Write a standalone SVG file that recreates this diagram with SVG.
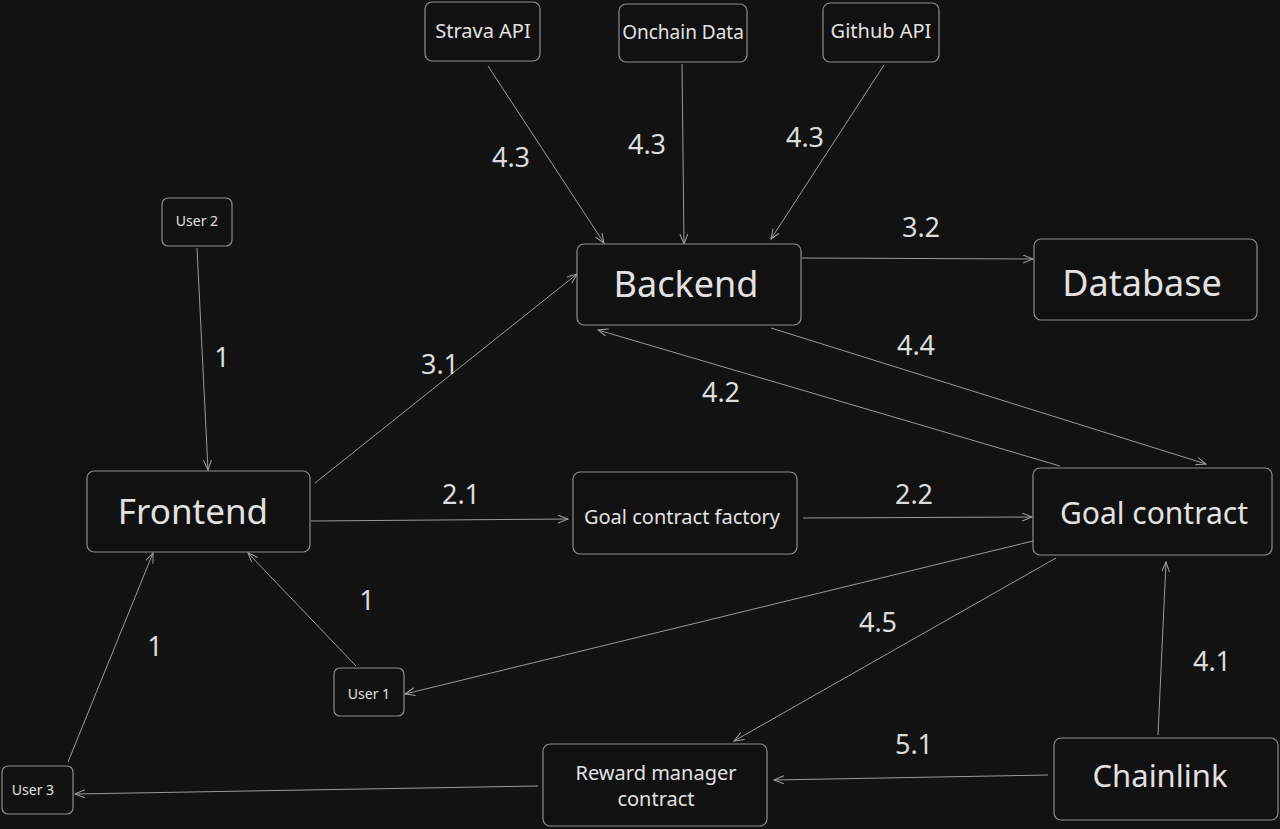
<svg xmlns="http://www.w3.org/2000/svg" width="1280" height="829" viewBox="0 0 1280 829">
<style>
.n{fill:#111111;stroke:#8e8e8e;stroke-width:1.2}
.t{font-family:"Noto Sans",Lato,sans-serif;fill:#e2e2e2;text-anchor:middle;dominant-baseline:central}
.c{stroke:#9a9a9a;stroke-width:1;fill:none;marker-end:url(#a)}
.l{font-family:"Noto Sans",Lato,sans-serif;fill:#dcdcdc;font-size:27px;text-anchor:middle;dominant-baseline:central}
</style>
<defs>
<marker id="a" markerUnits="userSpaceOnUse" markerWidth="12" markerHeight="10" refX="10" refY="4" orient="auto">
<path d="M0,0 L10,4 L0,8" fill="none" stroke="#a0a0a0" stroke-width="1"/>
</marker>
</defs>
<rect width="1280" height="829" fill="#121212"/>
<g id="connectors">
<line class="c" x1="488" y1="66" x2="604" y2="243"/>
<line class="c" x1="682" y1="64" x2="684" y2="244"/>
<line class="c" x1="884" y1="65" x2="771" y2="239"/>
<line class="c" x1="802" y1="258" x2="1033" y2="259"/>
<line class="c" x1="197" y1="248" x2="208" y2="470"/>
<line class="c" x1="315" y1="483" x2="577" y2="274"/>
<line class="c" x1="1060" y1="466" x2="598" y2="330"/>
<line class="c" x1="771" y1="328" x2="1206" y2="464"/>
<line class="c" x1="311" y1="521" x2="568" y2="519"/>
<line class="c" x1="803" y1="518" x2="1032" y2="517"/>
<line class="c" x1="356" y1="666" x2="248" y2="553"/>
<line class="c" x1="68" y1="762" x2="153" y2="553"/>
<line class="c" x1="1033" y1="541" x2="405" y2="694"/>
<line class="c" x1="1056" y1="558" x2="734" y2="741"/>
<line class="c" x1="1158" y1="735" x2="1166" y2="562"/>
<line class="c" x1="1048" y1="775" x2="774" y2="780"/>
<line class="c" x1="538" y1="786" x2="75" y2="794"/>
<text class="l" x="511" y="156">4.3</text>
<text class="l" x="647" y="143">4.3</text>
<text class="l" x="805" y="136">4.3</text>
<text class="l" x="921" y="226">3.2</text>
<text class="l" x="222" y="356">1</text>
<text class="l" x="440" y="363">3.1</text>
<text class="l" x="721" y="391">4.2</text>
<text class="l" x="916" y="344">4.4</text>
<text class="l" x="461" y="493">2.1</text>
<text class="l" x="914" y="493">2.2</text>
<text class="l" x="367" y="599">1</text>
<text class="l" x="155" y="645">1</text>
<text class="l" x="878" y="621">4.5</text>
<text class="l" x="1212" y="660">4.1</text>
<text class="l" x="914" y="743">5.1</text>
</g>
<g id="strava"><rect class="n" x="425" y="2" width="115" height="59" rx="7"/><text class="t" x="483" y="30" font-size="20">Strava API</text></g>
<g id="onchain"><rect class="n" x="619" y="4" width="128" height="58" rx="7"/><text class="t" x="683" y="32" font-size="19">Onchain Data</text></g>
<g id="github"><rect class="n" x="823" y="3" width="116" height="59" rx="7"/><text class="t" x="881" y="30" font-size="20">Github API</text></g>
<g id="user2"><rect class="n" x="162" y="198" width="70" height="48" rx="6"/><text class="t" x="197" y="220" font-size="14">User 2</text></g>
<g id="backend"><rect class="n" x="577" y="244" width="224" height="81" rx="7"/><text class="t" x="686" y="283" font-size="36">Backend</text></g>
<g id="database"><rect class="n" x="1034" y="239" width="223" height="81" rx="7"/><text class="t" x="1142" y="282" font-size="36">Database</text></g>
<g id="frontend"><rect class="n" x="87" y="471" width="223" height="81" rx="7"/><text class="t" x="193" y="510" font-size="35">Frontend</text></g>
<g id="factory"><rect class="n" x="573" y="472" width="224" height="82" rx="7"/><text class="t" x="682" y="516" font-size="20">Goal contract factory</text></g>
<g id="goal"><rect class="n" x="1033" y="468" width="239" height="87" rx="7"/><text class="t" x="1154" y="512" font-size="30">Goal contract</text></g>
<g id="user1"><rect class="n" x="334" y="668" width="70" height="48" rx="6"/><text class="t" x="369" y="693" font-size="14">User 1</text></g>
<g id="user3"><rect class="n" x="2" y="766" width="71" height="48" rx="6"/><text class="t" x="33" y="789" font-size="14">User 3</text></g>
<g id="reward"><rect class="n" x="543" y="744" width="224" height="82" rx="7"/><text class="t" x="656" y="772" font-size="20">Reward manager</text><text class="t" x="656" y="798" font-size="20">contract</text></g>
<g id="chainlink"><rect class="n" x="1054" y="738" width="224" height="82" rx="7"/><text class="t" x="1160" y="775" font-size="31">Chainlink</text></g>
</svg>
